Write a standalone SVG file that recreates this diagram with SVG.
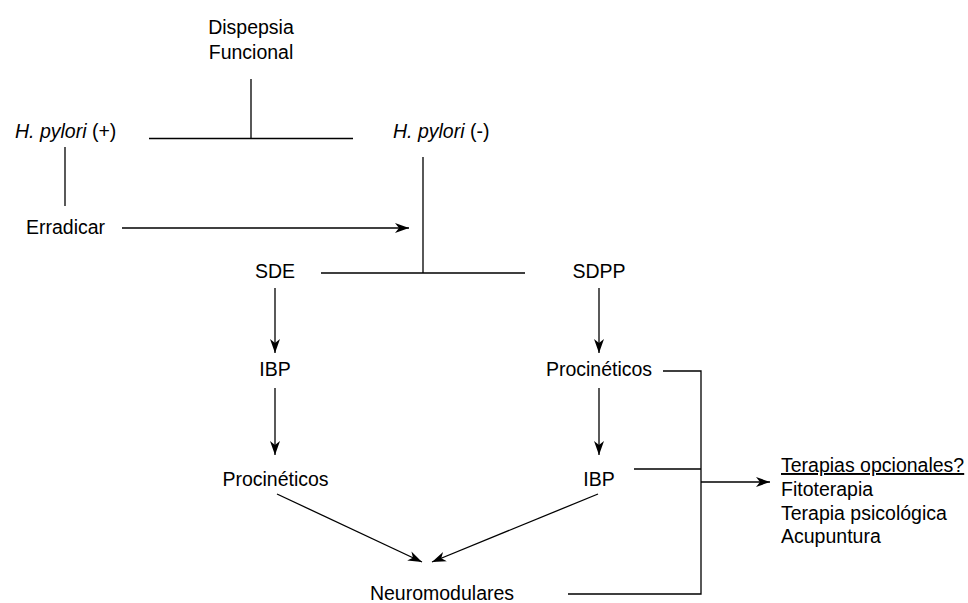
<svg xmlns="http://www.w3.org/2000/svg" width="968" height="603" viewBox="0 0 968 603">
<style>
text{font-family:"Liberation Sans",Arial,sans-serif;font-size:19.5px;fill:#000}
.c{text-anchor:middle}
.ln{stroke:#000;stroke-width:1.3;fill:none}
.ar{marker-end:url(#ah)}
</style>
<defs>
<marker id="ah" markerUnits="userSpaceOnUse" markerWidth="16" markerHeight="12" refX="14" refY="5.5" orient="auto">
<path d="M0,0.5 L14,5.5 L0,10.5 L4,5.5 Z" fill="#000"/>
</marker>
</defs>
<rect width="968" height="603" fill="#fff"/>
<g id="connectors">
<path class="ln" d="M251,79 V138.5 M149,138.5 H353"/>
<path class="ln" d="M65,147 V206"/>
<path class="ln ar" d="M122,228 H409"/>
<path class="ln" d="M423,157 V273 M321,273 H525"/>
<path class="ln ar" d="M275,288 V353"/>
<path class="ln ar" d="M275,388 V455"/>
<path class="ln ar" d="M599,288 V353"/>
<path class="ln ar" d="M599,388 V455"/>
<path class="ln ar" d="M277,494 L422,562"/>
<path class="ln ar" d="M598,494 L432,562"/>
<path class="ln" d="M663,371 H701 V594 H568 M634,469 H701"/>
<path class="ln ar" d="M701,482 H770"/>
</g>
<g id="dispepsia"><text class="c" x="251" y="34">Dispepsia</text><text class="c" x="251" y="58.5">Funcional</text></g>
<g id="hpylori-pos"><text x="15" y="138"><tspan font-style="italic">H. pylori</tspan> (+)</text></g>
<g id="hpylori-neg"><text x="393" y="138"><tspan font-style="italic">H. pylori</tspan> (-)</text></g>
<g id="erradicar"><text x="26" y="233.5">Erradicar</text></g>
<g id="sde"><text class="c" x="275" y="278">SDE</text></g>
<g id="sdpp"><text class="c" x="599" y="278">SDPP</text></g>
<g id="ibp-left"><text class="c" x="275" y="376">IBP</text></g>
<g id="procineticos-left"><text class="c" x="275.5" y="486">Procinéticos</text></g>
<g id="procineticos-right"><text class="c" x="599" y="376">Procinéticos</text></g>
<g id="ibp-right"><text class="c" x="599" y="486">IBP</text></g>
<g id="neuromodulares"><text class="c" x="442" y="600">Neuromodulares</text></g>
<g id="terapias">
<text x="781" y="472" text-decoration="underline">Terapias opcionales?</text>
<text x="781" y="496">Fitoterapia</text>
<text x="781" y="519.5">Terapia psicológica</text>
<text x="781" y="543">Acupuntura</text>
</g>
</svg>
